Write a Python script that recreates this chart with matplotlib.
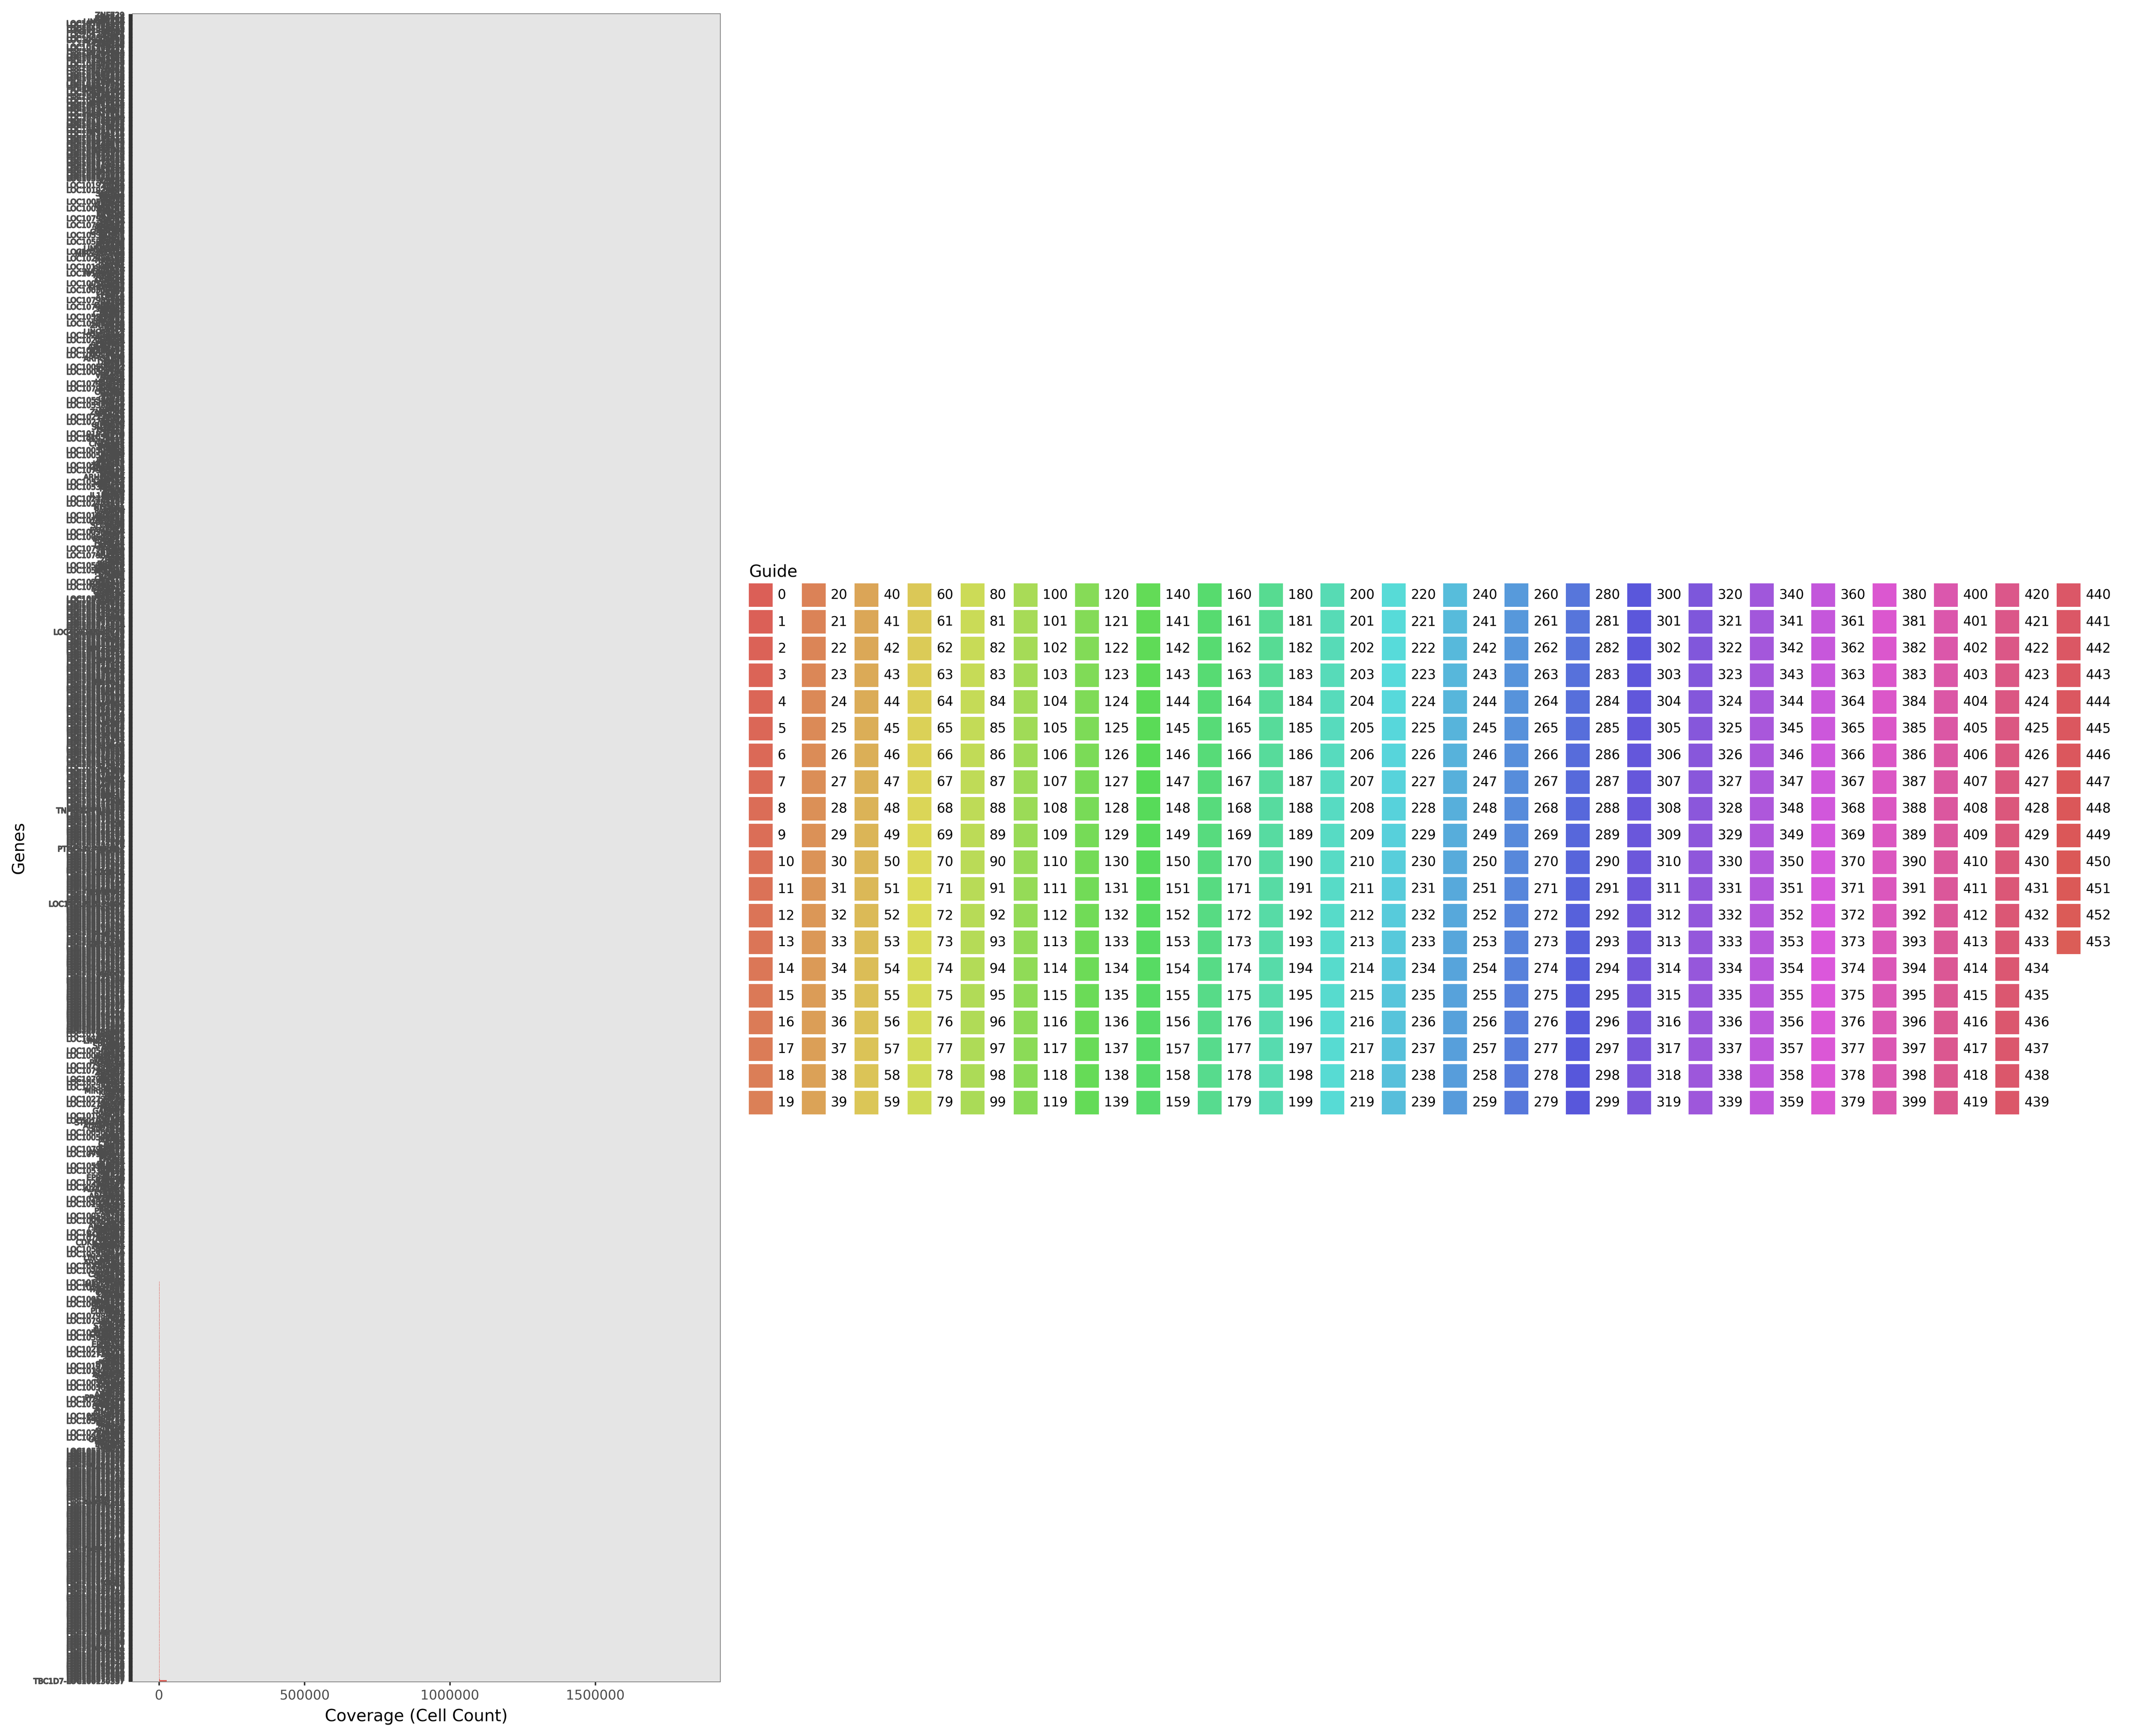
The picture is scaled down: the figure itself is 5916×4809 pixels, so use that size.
import numpy as np
import matplotlib
matplotlib.use("Agg")
import matplotlib.pyplot as plt
import matplotlib.patheffects as pe
from matplotlib.patches import Patch
import seaborn as sns

# gene names, listed top of the axis -> bottom (most of them are unreadable in the original,
# the labels overlap into one solid block)
GENES = """
ZNF729 RAB44 ZNF556 RAB39A LINC02454 LOC105369146 LOC107985021 EGFL6 LOC105376382 LOC101928283
TGIF2-RAB5IF TGIF2 LOC105372824 PRKCB LOC100506710 LOC105378903 ADAMTS16 CHRNA9 MYO3B LOC107986417
LOC105374532 KRT77 LOC105371814 CACNA2D3 LOC105377450 LOC101927668 LOC105379177 CALHM6 NPAS3 LOC105370270
LOC105373602 SLC6A11 LOC105375139 LGR6 LOC105369890 RNF152 LOC107984210 LOC105377986 LOC105374988 WDR72
ACSM2B LOC105379061 LOC101929596 LOC105372215 TMEM132C SPATA31D1 LOC105376017 LOC105371350 CNTNAP5 LOC105370848
MDGA2 LOC105369467 LOC105378124 FAM19A1 LOC105374320 LOC100130298 LOC105373977 KCNH7 LOC105371028 LOC105377712
TMEM255A LOC105375503 LOC107985780 GRM8 LOC105369812 LOC105378355 LOC105376645 SLITRK1 LOC105370119 LOC105372690
RPL31P11 LOC105374115 LOC105379340 NELL1 LOC105371977 LOC105373048 LOC105377204 PCDH15 LOC105369577 LOC105376833
LOC105375810 LRRTM4 LOC105370695 LOC105378570 LOC105374769 LOC105372056 CDH18 LOC105371492 LOC105377391 LOC105373715
SOX5 LOC105369388 LOC105376210 LOC105379502 OR4C46 LOC105375028 LOC105370932 LOC105374631 LOC105372398 DPP10
KCNB2 SGCZ LOC101927159 CDH8 NRG3 LOC101928447 GRIK2 SLC1A3 CNTN4 PTPRM
TRPM3 FSTL5 LOC100505835 DCDC2 GPR158 ASTN2 LOC100506271 NKAIN3 ANO3 UNC5C
NKAIN2 DCC LOC107984551 RORA EPHA6 TSHZ2 LOC107985332 ZNF536 SORCS1 ESRRG
GALNTL6 TENM2 LOC105380102 NLGN1 KCND2 LSAMP LOC105380477 MECOM RYR2 ANKS1B
LINC01250 ZFPM2 LOC102723415 MIR548A1HG TOX CLSTN2 LOC102724168 THSD7B PLCB1 FAT3
OPCML LOC101929126 SEMA5A CDH12 NAALADL2 LOC101927602 ADGRL3 SDK1 GRIN2B CCSER1
SNTG1 LOC100507389 RIMS2 KHDRBS2 PCDH9 LOC100505960 LINGO2 EBF1 FGF14 ATRNL1
EYS LOC107985107 DGKB NPAS3 DLGAP1 LOC107986185 MAML2 PRKCE SYNE1 CTNND2
PRKG1 LOC105380566 CACNB2 SLC8A1 MYO16 LOC105380188 ZNF385B NBEA TCF4 EXOC4
LINC00511 SLC24A3 LOC102724290 GPHN PLXDC2 LOC102723636 BCAS3 PTPRN2 SOX2-OT ADAMTS9
KIRREL3 LOC101928051 RAPGEF5 COL25A1 LOC101929650 TRIO ARHGAP15 NAV3 DNAH9 MSRA
DAB1 LOC100506451 PDZRN4 CSMD2 LOC100507142 UTRN VPS13B MYT1L NRG1 PTPRG
HS6ST3 LOC107985844 SLIT3 KALRN LOC107984244 ELMO1 CDKAL1 FTO PRIM2 TTC28
CDH13 LOC105380140 SHANK2 PLCL1 LOC105380709 TNIK ANK3 NXPH1 ZNF804B SPOCK1
ASIC2 LOC102723810 FHOD3 GRIA4 LOC102724358 PDE1C RBFOX3 SLC35F3 CUX2 TMEFF2
GPC5 LOC101927870 DPYD SLC39A11 LOC101928113 EXT1 PCSK5 CNTNAP2 SPON1 TENM3
ROBO2 LOC100505969 ROBO1 AGMO LOC100506733 GRM7 MCTP1 DIAPH2 HDAC9 KCNMA1
LOC107984471 GALNT13 BMPR1B LOC107985287 CHSY3 EPHA5 PTPRK ARHGAP26 TRPC4 CAMTA1
LOC105380211 MGAT4C FGF12 LOC105380640 PDE3A ERC2 SGCD GRIK3 IL1RAPL1 DNM3
LOC102724133 CLVS1 ZNF407 LOC102723592 TLL1 NEDD4L CDH4 PARD3B DPP6 HECW2
LOC101928562 ADARB2 SH3RF3 LOC101927209 COL22A1 PRKN SLC2A13 PLD5 CPNE4 FAM155A
LOC100506019 GRID1 RALYL LOC100507395 SAMD12 CADPS2 TAFA2 ERBB4 DLGAP2 KCNQ5
LOC107986305 LPP PTPRN ARPP21 LOC107984159 SIK3 CPQ ZFHX3 PBX3 BRINP3
LOC105380679 LRRC4C GREB1L LOC105380042 POU6F2 DMRT2 NTM SCN7A CASC15 MAST4
LOC102724412 RNF144B ADCY2 LOC102723120 STXBP5L SORCS3 GABRB1 HTR2C PTPRZ1 NCKAP5
LOC105378031 LOC105371609 ERBB4 LOC105377825 LOC105373290 LOC105369711 LOC105376498 CSMD3 LOC105375294 LOC105370417
LOC105374903 LOC105372561 PTPRD LOC105379015 LOC105371233 LOC105377058 LOC105373866 LOC105369255 FHIT LOC105376079
LOC400043-LOC10 LOC105375667 LOC105370572 LOC105378249 GRID2 LOC105374446 LOC105372943 LOC105371746 LOC105377569 LOC105373139
MACROD2 LOC105369948 LOC105376924 LOC105375451 LOC105370284 LOC105378786 LOC105374057 CTNNA3 LOC105372107 LOC105371318
LOC105377943 LOC105373524 LOC105369133 DLG2 LOC105376350 LOC105375982 LOC105370745 LOC105378419 LOC105374280 LOC105372779
RBFOX1 LOC105371085 LOC105377276 LOC105373401 LOC105369602 LOC105376712 PARK2 LOC105375174 LOC105370006 LOC105378692
LOC105374815 LOC105372327 LOC105371903 WWOX LOC105377630 LOC105373085 LOC105369474 LOC105376161 LOC105375742 AGBL4
LOC105370359 LOC105378148 LOC105374492 LOC105372840 LOC105371561 NRXN1 LOC105377017 LOC105373958 LOC105369829 LOC105376587
LOC105375316 LOC105370821 CNTN5 LOC105378937 LOC105374188 LOC105372471 LOC105371277 LOC105377474 PDE4D LOC105373671
LOC105369060 LOC105376046 LOC105375885 LOC105370508 LOC105378316 LRP1B LOC105374699 LOC105372005 LOC105371820 LOC105377172
KCNIP4 LOC105373348 LOC105369694 CADM2 LOC105376409 LOC105375057 LOC105370187 LOC105378655 IMMP2L LOC105374364
LOC105372636 LOC105371454 AUTS2 LOC105377819 LOC105373212 LOC105369312 LOC105376879 LOC105375618 MAGI2 LOC105370663
LOC105378002 LOC105374571 DMD LOC105372183 LOC105371027 LOC105377300 LOC105373804 TNFSF12-TNFSF13 TNFSF12 LOC105369987
LOC105376273 LOC105375397 LOC105370242 LOC105378817 LOC105374009 LYN LOC105372908 LOC105371689 LOC105377713 LOC105373463
LOC105369543 LOC105376728 LOC105375102 LOC105370891 LOC105378474 LOC105374866 LOC105372286 SYK LOC105371376 LOC105377557
PTGES3L-AARSD1 PTGES LOC105373099 LOC105369258 LOC105376112 LOC105375775 LOC105370435 LOC105378173 LOC105374524 LOC105372067
LOC105371908 LOC105377123 LOC105373937 LOC105369656 C2CD4A LOC105376574 LOC105375228 LOC105370057 LOC105378719 LOC105374242
LOC105372590 LOC105371191 LOC105377881 LOC105373586 LOC105369402 LOC105376348 TNFAIP8L3 LOC105375953 LOC105370775 LOC105378366
LOC105374937 LOC105372224 LOC105371732 LOC110121012-LOC LOC105377366 LOC105373275 LOC105369071 LOC105376993 LOC105375461 LOC105370302
LOC105378556 LOC105374613 LOC105372795 LOC105371519 LOC105377042 LOC105373744 LOC105369887 LOC105376184 LOC105375697 LOC105370948
LOC105378230 PHOX2B LOC105374078 LOC105372419 LOC105371080 LOC105377791 LOC105373122 ZNF385D LOC105369363 LOC105376635
LOC105375149 LOC105370539 LOC105378905 LOC105374450 LOC105372011 LOC105371661 LOC105377259 LOC105373893 LOC105369771 LOC105376266
LOC105375827 LOC105370126 LOC105378487 LOC105374777 LOC105372650 ABCC9 LOC105371322 LOC105377686 LOC105373380 LOC105369166
LOC105376082 LOC105375302 LOC105370687 LOC105378061 LOC105374122 LOC105372352 LOC105371979 LOC105377421 LOC105373017 LOC105369529
LOC105376795 LOC105375550 LOC105370330 LOC105378802 LOC105374953 LOC105372147 LOC105371127 LOC105377947 LOC105373606 LOC105369215
LOC105376449 LOC105375005 LOC105370799 LOC105378291 LOC105374331 LOC105372883 LOC105371430 LOC105377099 LOC105373238 LOC105369920
CSMD1 LOC101926905 ATP8A2 CNGB3 LOC101927586 LINC00621 PRDM16 CHD9 SPATS2L BNC2
PTPRT LOC100505582 OXR1 RBMS3 LOC100506166 MEGF11 TBC1D5 AFF3 PHACTR1 UNC5D
LOC107984819 GLIS3 NCAM2 LOC107985653 ZBTB20 SMYD3 FOXP2 PRR16 LOC107986270 ABLIM1
LOC105380604 CELF2 LMO7 LOC105380189 RGS6 MIR99AHG KCNH5 SYT1 BAI3 COBL
LOC102723729 DOCK4 SGCG LOC102724306 PIEZO2 FBXL7 TRHDE GABRG3 LRRC7 LDB2
LOC101928925 NOVA1 IQGAP2 LOC101927348 ST6GALNAC3 KIF26B ADAMTS20 MYO10 SLC4A10 PTN
LOC100506617 CA10 GNG7 LOC100507266 MBNL2 ESR1 DST CDH10 XKR4 RBM20
LOC107985252 KCNT2 ANKRD55 LOC107986448 SCFD2 PKHD1 ENOX1 ALK NTRK3 PLPPR1
LOC105380452 FRMD4A ITPR2 LOC105380118 INPP4B SNX29 DIP2C EPB41L4A MYRIP STK32B
LOC102724240 CCDC91 PRKCA LOC102723611 ADAMTSL1 CPED1 TTLL7 COL4A3 ARHGEF3 SPIDR
LOC101927638 VWC2L SLC44A5 LOC101929011 NEGR1 HHIP THSD4 PRKAG2 GRIK1 ST18
LOC100507172 CHN2 OSBPL10 LOC100505548 MCC SATB2 ANKRD44 PLXNA4 FRMPD4 AGAP1
LOC107984518 SOX5-AS1 DIAPH3 LOC107985390 AHCYL2 ESRRB CDKN2B-AS1 GNAL MARCH1 WDFY4
LOC105380277 BCL11A CUX1 LOC105380815 MAP2 LINC01322 SNTB1 PPFIA2 ARHGAP24 PTCHD4
LOC102723952 FRMD5 SLC12A8 LOC102724385 LRRK2 CACNA1C ZNF423 SEMA3A EFNA5 NAV2
LOC101929067 MIR137HG GAB2 LOC101927552 FAM135B HMCN1 CYP7B1 OPRM1 KAZN PTPRE
LOC100505437 MAN1A1 RNF217 LOC100506290 SLC35F1 WWC1 NRXN3 PLEKHA7 SVIL TOX3
LOC107985040 NFIA EDIL3 LOC107986353 PALLD SCN1A ST8SIA1 MAP7 LARGE1 UNC13C
LOC105380549 COL12A1 ARID1B LOC105380093 DLC1 SASH1 TMTC2 EPB41L2 LAMA2 PHLPP1
LOC102724066 SGIP1 ELAVL2 LOC102723431 BBS9 THRB SYN3 GRM5 PCDH7 STXBP6
LOC101928430 KCNJ6 RGS7 LOC101927085 SEMA6D ADAM23 PEX5L SORBS2 ACTN2 CDK14
LOC100506826 DSCAM PDZD2 LOC100507540 CAMK4 NFIB MEIS2 ABCA13 SYNPR PPARGC1A
LOC107986164 NAV1 CNKSR2 LOC107984345 SPATA13 LHFPL3 TACC2 SLC9A9 ADGRB3 CELF4
LOC105380734 DENND1A CHST11 LOC105380159 KLHL29 IGSF21 SMOC2 PCLO RERE ANKFN1
LOC102724272 RIMBP2 ATXN1 LOC102723564 CCDC85A SIPA1L1 BRINP2 EFCAB6 GNAO1 MDFIC
SOX6 LOC105375868 LOC105370398 LOC105378638 LOC105374680 LOC105372500 LOC105371853 LOC105377650 LOC105373771 LOC105369636
MAP3K19 LOC105375261 LOC105370081 LOC105378117 LOC105374019 LOC105372749 LOC105371545 LOC105377334 LOC105373149 LOC105369400
LOC105376905 LOC105375690 LOC105370614 LOC105378981 LOC105374405 LOC105372275 LOC105371226 LOC105377905 LOC105373530 LOC105369105
CYP4F11 LOC105375375 ANKRD30B LOC105378444 LOC105374825 LOC105372111 LOC105371780 LOC105377210 LOC105373842 LOC105369760
LOC105376510 LOC105375130 LOC105370457 LOC105378279 LOC105374206 LOC105372862 LOC105371368 LOC105377590 LOC105373416 LOC105369333
LOC105376050 LOC105375777 LOC105370915 LOC105378745 LOC105374602 LOC105372431 LOC105371062 LOC105377160 LOC105373069 LOC105369852
TMEM178B LOC105375422 LOC105370211 LOC105378085 LOC105374997 LOC105372098 LOC105371688 LOC105377740 LOC105373317 LOC105369590
LOC105376221 LOC105375924 LOC105370726 LOC105378532 LOC105374275 LOC105372672 LOC105371401 LOC105377029 LOC105373995 LOC105369228
CCN3 LOC105375063 LOC105370370 LOC105378870 LOC105374541 EEF1A2 LOC105371157 LOC105377503 LOC105373654 LOC105369945
LOC105376630 LOC105375501 LOC105370048 LOC105378195 LOC105374090 LOC105372812 LOC105371954 LOC105377385 LOC105373226 LOC105369475
LOC105376386 LOC105375215 LOC105370845 LOC105378623 LOC105374707 LOC105372318 LOC105371595 LOC105377868 LOC105373507 LOC105369052
MMP16 LOC105375833 LOC105370509 LOC105378041 LOC105374381 LOC105372580 LOC105371306 LOC105377147 LOC105373881 LOC105369684
MS4A14 LOC105375342 LOC105370264 LOC105378762 LOC105374868 LOC105372164 LOC105371832 LOC105377615 LOC105373044 LOC105369317
LOC105376730 LOC105375660 LOC105370977 LOC105378354 LOC105374160 LOC105372947 LOC105371480 LOC105377281 LOC105373787 TBC1D7-LOC100130357
""".split()

# cell counts of the bottom genes (1-2 px slivers at x=0, last gene ~26000);
# every gene above them has no visible bar
TAIL_COVERAGE = [
    1480, 1620, 1350, 1790, 1420, 1560, 1230, 1880, 1510, 1370,
    1650, 1290, 1740, 1460, 1590, 1310, 1930, 1400, 1540, 1270,
    1700, 1380, 1610, 1250, 1850, 1490, 1330, 1680, 1440, 1570,
    1210, 1760, 1520, 1360, 1640, 1300, 1910, 1450, 1580, 1340,
    1690, 1260, 1810, 1410, 1550, 1390, 1720, 1280, 1600, 1470,
    1830, 1320, 1660, 1430, 1500, 1240, 1970, 1380, 1630, 1350,
    1520, 1310, 1870, 1440, 1690, 1250, 1580, 2010, 1380, 1470,
    1630, 1190, 1760, 1420, 1550, 1340, 1890, 1270, 1610, 1480,
    1710, 1360, 1530, 1940, 1290, 1450, 1670, 1210, 1590, 1830,
    1400, 1560, 1330, 1780, 1490, 1260, 1650, 1370, 1920, 1510,
    1240, 1600, 1430, 1810, 1350, 1700, 1460, 1280, 1570, 1990,
    1390, 1640, 1300, 1850, 1500, 1220, 1680, 1410, 1540, 1770,
    1320, 1620, 1470, 1900, 1260, 1590, 1440, 1730, 1380, 1660,
    1510, 1230, 1800, 1450, 1610, 1340, 1960, 1290, 1570, 1420,
    1690, 1370, 1530, 1860, 1250, 1640, 1480, 1310, 1750, 1400,
    1580, 1270, 1820, 1460, 1620, 1350, 1910, 1200, 1550, 1430,
    1720, 1390, 1500, 1840, 1280, 1660, 1410, 1600, 1330, 1790,
    1560, 1300, 1740, 1420, 1650, 1380, 1870, 1260, 1530, 1470,
    1610, 1340, 1780, 1440, 1500, 1230, 1690, 1400, 1950, 1360,
    1480, 1590, 1270, 1820, 1430, 1710, 1310, 1570, 1390, 1640,
    1250, 1800, 1460, 1540, 1350, 1680, 1420, 1900, 1290, 1620,
    1410, 1670, 1330, 1760, 1510, 1280, 1630, 1450, 1580, 1370,
    1520, 1240, 1850, 1400, 1600, 1360, 1730, 1300, 1550, 1440,
    1470, 1560, 1240, 1880, 1420, 1630, 1360, 1710, 3500, 26000,
]

GUIDES = [str(g) for g in range(454)]   # legend shows guides 0..453

X_TICKS = [0, 500000, 1000000, 1500000]
X_LIMITS = (-91400, 1929700)

W_PX, H_PX, DPI = 5916, 4809, 300

coverage = np.zeros(len(GENES))
coverage[-len(TAIL_COVERAGE):] = TAIL_COVERAGE
n = len(GENES)
ypos = np.arange(n)[::-1]

colors = sns.color_palette("hls", len(GUIDES))

fig = plt.figure(figsize=(W_PX / DPI, H_PX / DPI), dpi=DPI)
# panel box in pixels: x 367..1996, y 38..4659
ax = fig.add_axes([367 / W_PX, (H_PX - 4659) / H_PX, (1996 - 367) / W_PX, (4659 - 38) / H_PX])
ax.set_facecolor("#E5E5E5")

ax.barh(ypos, coverage, height=0.9, color=colors[0], linewidth=0)

ax.set_xlim(*X_LIMITS)
ax.set_ylim(-0.6, n - 1 + 0.6)
ax.set_xticks(X_TICKS)
ax.set_xticklabels([str(t) for t in X_TICKS])
ax.set_yticks(ypos)
ax.set_yticklabels(GENES)

ax.tick_params(axis="x", length=2.4, width=1.0, color="#333333", pad=2.6,
               labelsize=8.8, labelcolor="#4D4D4D")
ax.tick_params(axis="y", length=2.64, width=1.3, color="#333333", pad=2.6,
               labelsize=5, labelcolor="#4D4D4D")
# thousands of overlapping labels merge into a solid block in the original
for lab in ax.get_yticklabels():
    lab.set_path_effects([pe.withStroke(linewidth=0.6, foreground="#4D4D4D")])

for side in ["top", "right", "bottom"]:
    ax.spines[side].set_color("#808080")
    ax.spines[side].set_linewidth(0.5)
ax.spines["left"].set_visible(False)

ax.set_xlabel("Coverage (Cell Count)", fontsize=11, color="black")
ax.xaxis.set_label_coords(0.4825, (4659 - 4755) / (4659 - 38))
ax.xaxis.label.set_va("center")
ax.set_ylabel("Genes", fontsize=11, color="black")
ax.yaxis.set_label_coords((53 - 367) / (1996 - 367), 0.5)
ax.yaxis.label.set_va("center")

# legend: 23 columns x 20 rows, filled column by column; pad with blanks so the
# last column holds the remaining 14
handles = [Patch(facecolor=c, edgecolor="none") for c in colors]
labels = list(GUIDES)
ncol = 23
rows = 20
for _ in range(ncol * rows - len(handles)):
    handles.append(Patch(facecolor="none", edgecolor="none"))
    labels.append("")

fig.legend(handles, labels, title="Guide", ncol=ncol, loc="upper left",
           bbox_to_anchor=(2075 / W_PX, 1 - 1562 / H_PX),
           frameon=False, fontsize=8.8, title_fontsize=11, alignment="left",
           handlelength=1.8, handleheight=2.35, handletextpad=0.38,
           labelspacing=0.245, columnspacing=0.55, borderpad=0, borderaxespad=0)

fig.savefig("out.png", dpi=DPI)
